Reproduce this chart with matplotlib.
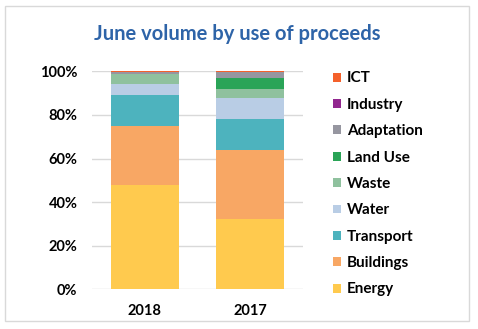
import matplotlib
matplotlib.use("Agg")
from matplotlib import pyplot as plt
from matplotlib.patches import Rectangle
from matplotlib.ticker import PercentFormatter

years = ["2018", "2017"]
sectors = ["Energy", "Buildings", "Transport", "Water", "Waste",
           "Land Use", "Adaptation", "Industry", "ICT"]
# share of June volume per sector, in percent (2018, 2017)
energy = [47.9, 32.3]
buildings = [27.0, 31.6]
transport = [14.2, 14.2]
water = [5.0, 9.6]
waste = [4.6, 4.1]
land_use = [0.0, 5.0]
adaptation = [0.9, 2.8]
industry = [0.2, 0.2]
ict = [0.2, 0.2]
series = [energy, buildings, transport, water, waste,
          land_use, adaptation, industry, ict]
colors = ["#FFCA4E", "#F8A764", "#4DB3BE", "#B9CDE5", "#8FC19E",
          "#2AA457", "#9696A0", "#92278F", "#F4612B"]

plt.rcParams["font.family"] = ["Lato", "DejaVu Sans"]
plt.rcParams["font.weight"] = "bold"

fig = plt.figure(figsize=(4.78, 3.29), dpi=100)
fig.patches.append(Rectangle((5 / 478, 1 - 321 / 329), 464 / 478, 315 / 329,
                             transform=fig.transFigure, fill=False,
                             edgecolor="#D9D9D9", linewidth=1))

ax = fig.add_axes([92 / 478, 1 - 289.3 / 329, 211 / 478, 218 / 329])
x = range(len(years))
bottom = [0.0] * len(years)
handles = []
for name, vals, c in zip(sectors, series, colors):
    b = ax.bar(x, vals, width=0.645, bottom=bottom, color=c, label=name,
               zorder=3)
    handles.append(b)
    bottom = [p + v for p, v in zip(bottom, vals)]

ax.set_xlim(-0.5, 1.5)
ax.set_ylim(0, 100)
ax.set_yticks(range(0, 101, 20))
ax.yaxis.set_major_formatter(PercentFormatter(decimals=0))
ax.set_xticks(list(x))
ax.set_xticklabels(years)
ax.tick_params(length=0, labelsize=10.5, pad=10.5)
for lbl in ax.get_xticklabels() + ax.get_yticklabels():
    lbl.set_fontweight("bold")
ax.grid(axis="y", color="#D9D9D9", linewidth=1, zorder=0)
for s in ax.spines.values():
    s.set_visible(False)

fig.text(237 / 478, 1 - 34 / 329, "June volume by use of proceeds",
         ha="center", va="center", fontsize=14.5, fontweight="bold",
         color="#2E64A8")

fig.legend(handles[::-1], sectors[::-1], loc="center left",
           bbox_to_anchor=(333 / 478, 1 - 184 / 329), frameon=False,
           labelspacing=0.81, handlelength=0.52,
           handleheight=0.52, handletextpad=0.4, borderpad=0,
           borderaxespad=0, prop={"weight": "bold", "size": 11})

fig.savefig("out.png", dpi=100)
